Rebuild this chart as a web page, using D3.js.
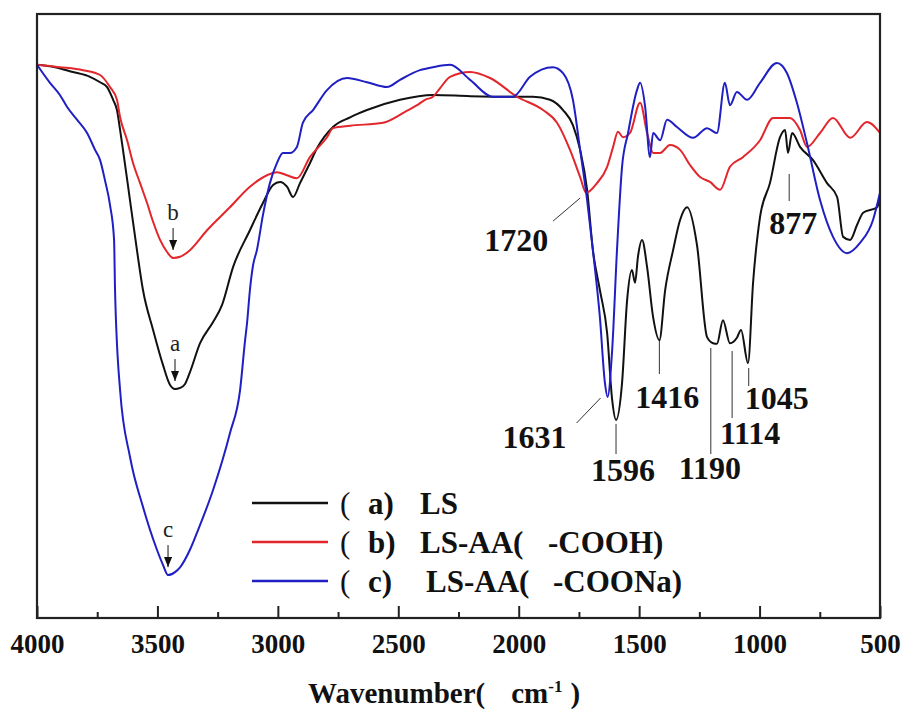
<!DOCTYPE html>
<html>
<head>
<meta charset="utf-8">
<script src="https://cdn.jsdelivr.net/npm/d3@7/dist/d3.min.js"></script>
<style>
body { margin: 0; background: #fff; }
</style>
</head>
<body>
<div id="canvas"></div>
<script>
// [wavenumber cm-1, transmittance %]
const lsData = [
    [4000, 91.6], [3925, 91.2], [3851, 90.4], [3780, 89.6], [3738, 88.7], [3709, 87.9],
    [3684, 85.8], [3668, 84.1], [3655, 80.8], [3643, 77.5], [3614, 69.2], [3585, 60.9],
    [3560, 54.3], [3518, 47.7], [3477, 41.9], [3448, 38.6],
    [3427, 37.9], [3406, 38.1], [3386, 38.7], [3365, 40.7], [3323, 45.5], [3269, 49.0],
    [3232, 51.8], [3186, 58.1], [3116, 64.2], [3062, 68.7], [3020, 71.7], [2991, 72.2],
    [2962, 71.4], [2937, 69.7], [2908, 72.0], [2867, 75.3], [2837, 77.8], [2771, 81.3],
    [2700, 82.9], [2630, 84.1], [2493, 85.8], [2356, 86.6], [2202, 86.4], [2036, 86.3],
    [1941, 86.3], [1870, 85.8], [1816, 84.1], [1775, 81.6], [1745, 77.5], [1716, 70.9],
    [1692, 60.9], [1663, 54.3], [1633, 47.2], [1612, 36.1], [1596, 32.8], [1571, 38.9],
    [1550, 52.6], [1530, 57.6], [1517, 55.5], [1505, 59.8], [1488, 62.6], [1467, 58.1],
    [1442, 49.8], [1416, 46.0], [1392, 54.3], [1359, 60.9], [1330, 65.9], [1301, 68.0],
    [1260, 61.8], [1218, 46.5], [1193, 45.5], [1177, 45.4], [1152, 49.3], [1123, 45.5],
    [1094, 46.4], [1077, 47.7], [1048, 42.2], [1027, 55.5], [998, 66.4], [957, 72.0],
    [915, 79.6], [894, 80.8], [882, 77.0], [865, 80.3], [832, 78.0], [778, 75.8],
    [720, 72.0], [678, 69.7], [653, 63.1], [624, 62.6], [595, 65.1], [570, 67.1],
    [512, 68.0], [500, 69.7]
];

const lsAACoohData = [
    [4000, 91.6], [3905, 91.2], [3809, 90.7], [3738, 89.9], [3697, 87.9], [3668, 85.8],
    [3655, 82.9], [3626, 79.1], [3601, 75.3], [3572, 72.0], [3543, 68.7], [3518, 65.6],
    [3489, 62.6], [3460, 60.6], [3435, 59.6], [3406, 59.8], [3365, 60.9], [3294, 64.2],
    [3199, 68.0], [3116, 71.4], [3045, 73.3], [3004, 73.8], [2962, 73.3], [2921, 72.8],
    [2867, 76.3], [2796, 79.6], [2771, 81.1], [2700, 81.5], [2563, 82.0], [2472, 83.8],
    [2422, 84.9], [2389, 85.8], [2356, 86.3], [2327, 87.7], [2285, 89.6], [2202, 90.4],
    [2119, 89.4], [2007, 86.3], [1899, 84.1], [1841, 82.0], [1787, 77.5], [1745, 73.0],
    [1720, 70.4], [1675, 72.0], [1633, 74.7], [1608, 78.0], [1588, 80.5], [1567, 79.6],
    [1538, 80.3], [1496, 85.3], [1467, 80.3], [1442, 77.0], [1413, 77.0], [1372, 78.3],
    [1330, 77.5], [1289, 75.0], [1247, 73.0], [1206, 72.2], [1164, 70.9], [1123, 74.7],
    [1069, 76.3], [998, 79.1], [944, 82.8], [874, 82.8], [832, 80.8], [803, 78.0],
    [749, 80.3], [695, 82.8], [624, 79.5], [554, 82.1], [500, 80.3]
];

const lsAACoonaData = [
    [4000, 91.6], [3946, 88.6], [3905, 86.6], [3875, 84.6], [3834, 82.5], [3792, 80.3],
    [3759, 77.5], [3738, 75.8], [3718, 72.5], [3697, 68.4], [3680, 62.6], [3676, 54.3],
    [3655, 37.7], [3614, 26.7], [3560, 18.4], [3502, 11.3], [3477, 8.8], [3456, 7.1],
    [3427, 7.6], [3406, 8.4], [3365, 11.3], [3336, 14.1], [3269, 21.2], [3199, 30.6],
    [3157, 37.7], [3136, 46.0], [3128, 48.8], [3116, 54.3], [3103, 58.4], [3087, 60.9],
    [3062, 66.7], [3033, 72.0], [3004, 75.3], [2979, 77.0], [2950, 77.0], [2921, 78.0],
    [2896, 82.0], [2854, 84.1], [2796, 87.4], [2713, 89.4], [2630, 88.7], [2547, 87.9],
    [2493, 89.1], [2410, 90.7], [2356, 91.2], [2285, 91.6], [2202, 89.1], [2107, 86.3],
    [2024, 86.3], [1953, 89.6], [1858, 91.2], [1816, 90.2], [1775, 85.8], [1745, 77.5],
    [1716, 69.2], [1692, 60.9], [1663, 49.8], [1642, 38.9], [1631, 36.6], [1612, 44.4],
    [1592, 60.9], [1571, 74.7], [1546, 80.3], [1509, 87.4], [1496, 88.6], [1475, 84.6],
    [1455, 76.3], [1442, 80.3], [1413, 79.1], [1384, 82.5], [1343, 81.3], [1276, 79.5],
    [1218, 81.1], [1177, 80.3], [1144, 88.6], [1123, 84.9], [1094, 87.1], [1052, 85.8],
    [998, 88.6], [928, 91.9], [886, 90.2], [845, 85.3], [803, 78.6], [749, 69.2],
    [695, 63.1], [637, 60.4], [583, 62.1], [529, 65.9], [500, 70.4]
];

// legend entries split in the pieces the figure spaces apart
const seriesLetters = ["a", "b", "c"];
const seriesNames = ["LS", "LS-AA(", "LS-AA("];
const seriesGroups = ["", "-COOH)", "-COONa)"];
const bandCentres = [3427, 3435, 3456];
const xTicks = [4000, 3500, 3000, 2500, 2000, 1500, 1000, 500];
const xMinorTicks = [3750, 3250, 2750, 2250, 1750, 1250, 750];
const peakMarks = [1720, 1631, 1596, 1416, 1190, 1114, 1045, 877];

const serif = "Liberation Serif, serif";

const svg = d3.select("#canvas").append("svg")
    .attr("width", 904)
    .attr("height", 715)
    .attr("font-family", serif);

const margin = { top: 14, right: 24, bottom: 97, left: 37 };
const graphWidth = 904 - margin.left - margin.right;
const graphHeight = 715 - margin.top - margin.bottom;

const graph = svg.append("g")
    .attr("transform", `translate(${margin.left},${margin.top})`);

const x = d3.scaleLinear().domain([4000, 500]).range([0, graphWidth]);
const y = d3.scaleLinear().domain([0, 100]).range([graphHeight, 0]);

const allSeries = [lsData, lsAACoohData, lsAACoonaData];
const colors = ["#111111", "#e3262b", "#1f1fc4"];

const line = d3.line()
    .x(d => x(d[0]))
    .y(d => y(d[1]))
    .curve(d3.curveMonotoneX);

graph.selectAll("path.spec")
    .data(allSeries)
    .enter()
    .append("path")
    .attr("class", "spec")
    .attr("d", line)
    .attr("fill", "none")
    .attr("stroke", (d, i) => colors[i])
    .attr("stroke-width", 2)
    .attr("stroke-linejoin", "round");

// frame
graph.append("rect")
    .attr("width", graphWidth)
    .attr("height", graphHeight)
    .attr("fill", "none")
    .attr("stroke", "#222")
    .attr("stroke-width", 2.2);

// x axis, ticks pointing inward
const xAxis = graph.append("g")
    .attr("transform", `translate(0, ${graphHeight})`)
    .call(d3.axisBottom(x).tickValues(xTicks).tickSize(-12).tickPadding(16).tickFormat(d3.format("d")));
xAxis.attr("font-family", serif);
xAxis.select(".domain").remove();
xAxis.selectAll("line").attr("stroke", "#222").attr("stroke-width", 2);
xAxis.selectAll("text")
    .attr("font-size", 27)
    .attr("font-weight", "bold")
    .attr("fill", "#111");

const xMinor = graph.append("g")
    .attr("transform", `translate(0, ${graphHeight})`)
    .call(d3.axisBottom(x).tickValues(xMinorTicks).tickSize(-6).tickFormat(""));
xMinor.select(".domain").remove();
xMinor.selectAll("line").attr("stroke", "#222").attr("stroke-width", 2);

// axis title
const title = svg.append("text")
    .attr("x", 308)
    .attr("y", 703)
    .attr("font-size", 29)
    .attr("font-weight", "bold")
    .attr("fill", "#111");
title.append("tspan").text("Wavenumber(");
title.append("tspan").attr("dx", 26).text("cm");
title.append("tspan").attr("dy", -11).attr("font-size", 17).text("-1");
title.append("tspan").attr("dy", 11).attr("dx", 8).text(")");

// arrow marker
svg.append("defs").append("marker")
    .attr("id", "arrow")
    .attr("viewBox", "0 0 8 10")
    .attr("refX", 4)
    .attr("refY", 10)
    .attr("markerWidth", 8)
    .attr("markerHeight", 10)
    .attr("markerUnits", "userSpaceOnUse")
    .attr("orient", "0")
    .append("path")
    .attr("d", "M0,0 L8,0 L4,10 Z")
    .attr("fill", "#111");

// band letters a, b, c above each O-H minimum
allSeries.forEach((s, i) => {
    const bandPoint = s.find(d => d[0] === bandCentres[i]);
    const cx = x(bandCentres[i]);
    const tip = y(bandPoint[1]) - 8;
    graph.append("line")
        .attr("x1", cx).attr("x2", cx)
        .attr("y1", tip - 22).attr("y2", tip)
        .attr("stroke", "#111")
        .attr("stroke-width", 1)
        .attr("marker-end", "url(#arrow)");
    graph.append("text")
        .attr("x", cx)
        .attr("y", tip - 30)
        .attr("text-anchor", "middle")
        .attr("font-size", 23)
        .attr("fill", "#222")
        .text(seriesLetters[i]);
});

// peak labels with leader lines
const peakLayout = {
    1720: { dx1: -6, y1: 184, dx2: -33, y2: 207, tx: -70, ty: 237 },
    1631: { dx1: -7, y1: 384, dx2: -31, y2: 409, tx: -73, ty: 434 },
    1596: { dx1: 0, y1: 410, dx2: 0, y2: 440, tx: 7, ty: 467 },
    1416: { dx1: 0, y1: 327, dx2: 0, y2: 360, tx: 8, ty: 394 },
    1190: { dx1: -3, y1: 334, dx2: -3, y2: 440, tx: -4, ty: 465 },
    1114: { dx1: 0, y1: 337, dx2: 0, y2: 404, tx: 18, ty: 430 },
    1045: { dx1: 0, y1: 354, dx2: 0, y2: 372, tx: 28, ty: 395 },
    877: { dx1: 0, y1: 160, dx2: 0, y2: 187, tx: 4, ty: 220 }
};

peakMarks.forEach(w => {
    const p = peakLayout[w];
    const px = x(w);
    graph.append("line")
        .attr("x1", px + p.dx1).attr("y1", p.y1)
        .attr("x2", px + p.dx2).attr("y2", p.y2)
        .attr("stroke", "#333")
        .attr("stroke-width", 1);
    graph.append("text")
        .attr("x", px + p.tx)
        .attr("y", p.ty)
        .attr("text-anchor", "middle")
        .attr("font-size", 32)
        .attr("font-weight", "bold")
        .attr("fill", "#111")
        .text(w);
});

// legend
const legend = graph.append("g")
    .attr("transform", "translate(215, 489)");

legend.selectAll("line")
    .data(seriesLetters)
    .enter()
    .append("line")
    .attr("x1", 0).attr("x2", 76)
    .attr("y1", (d, i) => i * 39).attr("y2", (d, i) => i * 39)
    .attr("stroke", (d, i) => colors[i])
    .attr("stroke-width", 2.5);

const legendText = legend.selectAll("text")
    .data(seriesLetters)
    .enter()
    .append("text")
    .attr("y", (d, i) => i * 39 + 11)
    .attr("font-size", 31)
    .attr("font-weight", "bold")
    .attr("fill", "#111");

legendText.append("tspan").attr("x", 88).attr("font-weight", "normal").text("(");
legendText.append("tspan").attr("x", 116).text(d => d + ")");
legendText.append("tspan").attr("x", (d, i) => i === 2 ? 174 : 168).text((d, i) => seriesNames[i]);
legendText.append("tspan").attr("x", (d, i) => i === 2 ? 301 : 296).text((d, i) => seriesGroups[i]);
</script>
</body>
</html>
